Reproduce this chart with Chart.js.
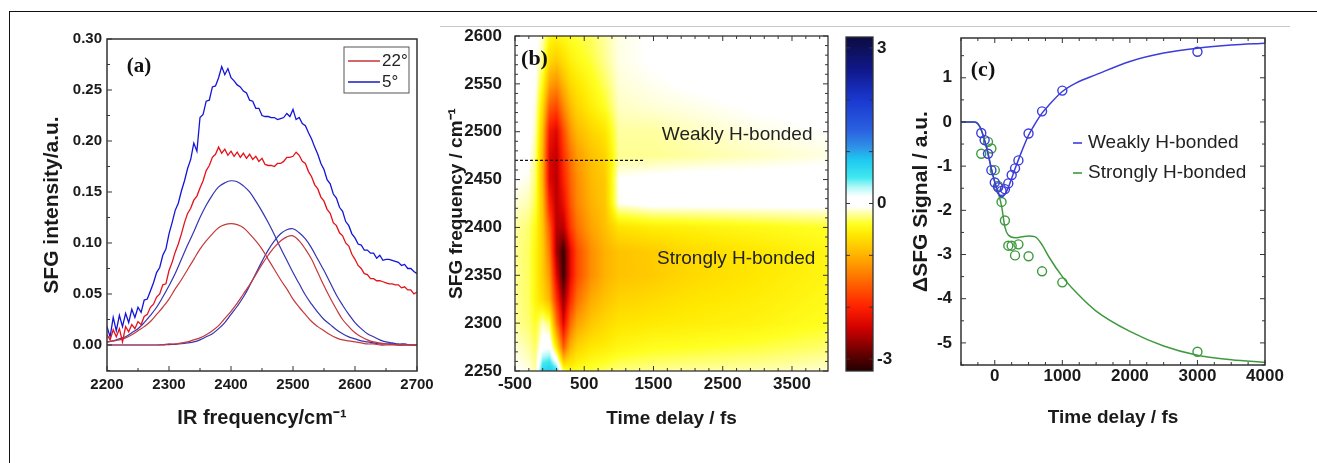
<!DOCTYPE html>
<html>
<head>
<meta charset="utf-8">
<script src="https://cdn.jsdelivr.net/npm/chart.js@4.4.1/dist/chart.umd.min.js"></script>
<style>
  body { margin: 0; background: #fff; }
  #page { position: relative; width: 1317px; height: 463px; overflow: hidden; background: #fff; }
  canvas { position: absolute; top: 0; }
  .rule { position: absolute; }
</style>
</head>
<body>
<div id="page">
  <div class="rule" style="left:9px;top:11px;width:1308px;border-top:1.5px solid #111"></div>
  <div class="rule" style="left:9px;top:11px;height:452px;border-left:1.5px solid #111"></div>
  <div class="rule" style="left:440px;top:26px;width:850px;border-top:1px solid #c8c8c8"></div>
  <canvas id="chartA" width="440" height="463" style="left:0px"></canvas>
  <canvas id="chartB" width="400" height="463" style="left:440px"></canvas>
  <canvas id="chartBar" width="70" height="463" style="left:840px"></canvas>
  <canvas id="chartC" width="412" height="463" style="left:905px"></canvas>
</div>
<script>
// ---------- panel (a): SFG spectra ----------
const aFreqData = [];
for (let f = 2200; f <= 2700; f += 5) aFreqData.push(f);
const aFreqFit = [];
for (let f = 2200; f <= 2700; f += 10) aFreqFit.push(f);

const aBlue5 = [
  .018,.008,.027,.014,.029,.018,.031,.022,.035,.027,
  .037,.032,.044,.045,.053,.061,.071,.076,.088,.094,
  .109,.120,.132,.139,.151,.161,.173,.182,.198,.190,
  .223,.226,.239,.240,.253,.254,.262,.273,.265,.271,
  .262,.259,.255,.253,.249,.247,.240,.239,.232,.232,
  .225,.224,.224,.223,.223,.221,.222,.223,.227,.224,
  .231,.221,.223,.217,.215,.208,.202,.194,.187,.178,
  .172,.162,.158,.148,.144,.135,.131,.121,.117,.109,
  .105,.099,.098,.093,.093,.090,.090,.085,.088,.083,
  .084,.084,.083,.082,.081,.078,.079,.075,.075,.072,
  .070
];
const aRed22 = [
  .010,.005,.015,.008,.016,.003,.018,.013,.020,.016,
  .023,.020,.028,.030,.037,.040,.047,.050,.059,.060,
  .073,.081,.091,.099,.109,.120,.129,.134,.142,.146,
  .154,.161,.171,.176,.184,.187,.194,.188,.192,.186,
  .190,.185,.189,.184,.188,.183,.187,.182,.185,.180,
  .183,.177,.176,.176,.175,.178,.178,.180,.184,.184,
  .185,.189,.186,.180,.178,.170,.165,.157,.153,.145,
  .141,.133,.129,.120,.117,.110,.107,.100,.097,.089,
  .084,.078,.075,.070,.069,.065,.065,.063,.063,.062,
  .061,.060,.060,.059,.059,.056,.057,.054,.054,.050,
  .052
];
const aBlueFit1 = [
  .003,.004,.006,.008,.012,.016,.022,.029,.037,.047,
  .058,.070,.084,.098,.111,.125,.137,.147,.155,.159,
  .161,
  .160,.156,.150,.141,.131,.120,.108,.095,.083,.071,
  .060,.049,.040,.032,.025,.020,.015,.011,.008,.006,
  .004,.003,.002,.001,.001,.001,0,0,0,0
];
const aRedFit1 = [
  .003,.004,.005,.007,.010,.014,.018,.023,.030,.037,
  .045,.055,.064,.074,.084,.094,.102,.109,.115,.118,
  .119,
  .118,.115,.109,.102,.094,.084,.074,.064,.055,.045,
  .037,.030,.023,.018,.014,.010,.007,.005,.004,.003,
  .002,.001,.001,0,0,0,0,0,0,0
];
const aBlueFit2 = [
  0,0,0,0,0,0,0,0,0,0,
  .0004,.0007,.0012,.002,.003,.005,.008,.011,.016,.022,
  .030,
  .038,.047,.058,.070,.082,.093,.102,.109,.113,.114,
  .110,.104,.095,.084,.073,.061,.049,.039,.030,.022,
  .016,.011,.008,.005,.003,.002,.001,.001,0,0
];
const aRedFit2 = [
  0,0,0,0,0,0,0,0,0,.0004,
  .001,.001,.002,.003,.005,.007,.010,.014,.019,.026,
  .033,
  .041,.050,.059,.069,.079,.088,.096,.102,.106,.107,
  .102,.094,.084,.071,.058,.046,.035,.025,.018,.012,
  .008,.005,.003,.002,.001,.0005,0,0,0,0
];
const aXTicks = [2200, 2300, 2400, 2500, 2600, 2700];
const aYTicks = [0, 0.05, 0.10, 0.15, 0.20, 0.25, 0.30];

// ---------- panel (b): 2D map ----------
const hmTime = [-500, -300, -200, -100, 0, 100, 200, 300, 400, 600, 800, 1000, 1500, 2000, 3000, 4050];
const hmFreq = [2250, 2275, 2300, 2325, 2350, 2375, 2400, 2425, 2450, 2475, 2500, 2525, 2550, 2575, 2600];
const hmValues = [
  [-0.05, -0.1, -0.2, 0.7, 0.8, 0.6, -0.3, -0.45, -0.4, -0.35, -0.3, -0.25, -0.22, -0.2, -0.18, -0.12],
  [-0.12, -0.2, -0.3, 0.05, 0.1, -0.6, -1.6, -1.0, -0.75, -0.6, -0.55, -0.48, -0.42, -0.4, -0.35, -0.28],
  [-0.2, -0.28, -0.4, -0.15, -0.3, -1.4, -2.3, -1.5, -1.1, -0.85, -0.72, -0.62, -0.58, -0.55, -0.5, -0.4],
  [-0.22, -0.3, -0.5, -0.7, -1.0, -1.9, -2.7, -1.95, -1.45, -1.05, -0.88, -0.76, -0.7, -0.63, -0.55, -0.45],
  [-0.22, -0.3, -0.5, -0.8, -1.2, -2.3, -3.1, -2.25, -1.7, -1.25, -1.0, -0.88, -0.82, -0.72, -0.6, -0.48],
  [-0.22, -0.3, -0.5, -0.8, -1.4, -2.6, -3.1, -2.25, -1.7, -1.25, -1.0, -0.88, -0.8, -0.7, -0.6, -0.48],
  [-0.2, -0.28, -0.45, -0.85, -1.6, -2.5, -2.5, -1.85, -1.45, -1.1, -0.9, -0.64, -0.55, -0.52, -0.45, -0.38],
  [-0.12, -0.18, -0.35, -0.9, -2.0, -2.5, -2.2, -1.65, -1.3, -1.0, -0.85, -0.08, 0, 0, 0, 0],
  [-0.05, -0.1, -0.3, -1.0, -2.3, -2.5, -2.0, -1.55, -1.25, -0.95, -0.82, -0.06, -0.02, 0, 0, 0],
  [0, -0.03, -0.25, -1.0, -2.3, -2.45, -1.9, -1.45, -1.15, -0.9, -0.75, -0.22, -0.22, -0.2, -0.15, -0.1],
  [0, 0, -0.18, -0.9, -2.1, -2.3, -1.7, -1.2, -0.95, -0.75, -0.6, -0.2, -0.2, -0.16, -0.1, -0.06],
  [0, 0, -0.12, -0.7, -1.6, -1.75, -1.3, -0.95, -0.75, -0.55, -0.4, -0.15, -0.12, -0.1, -0.05, -0.03],
  [0, 0, -0.08, -0.45, -1.1, -1.25, -0.95, -0.72, -0.6, -0.45, -0.3, -0.12, -0.08, -0.05, -0.02, 0],
  [0, 0, -0.05, -0.25, -0.7, -0.8, -0.65, -0.52, -0.45, -0.35, -0.22, -0.1, -0.05, -0.03, 0, 0],
  [0, 0, 0, -0.15, -0.45, -0.5, -0.45, -0.4, -0.35, -0.3, -0.2, -0.1, -0.05, -0.03, 0, 0]
];
const bDashTime = [-500, 1350];
const bDashFreq = [2470, 2470];
const bXTicks = [-500, 500, 1500, 2500, 3500];
const bYTicks = [2250, 2300, 2350, 2400, 2450, 2500, 2550, 2600];

// colour bar
const cbMin = -3.23, cbMax = 3.21;
const cbTicks = [-3, 0, 3];
const cmapStops = [
  [-3.23, [32, 0, 0]], [-2.77, [128, 0, 0]], [-2.4, [208, 0, 0]], [-2.0, [255, 32, 0]],
  [-1.6, [255, 90, 0]], [-1.2, [255, 149, 0]], [-0.9, [255, 192, 0]], [-0.6, [255, 232, 0]],
  [-0.4, [255, 255, 32]], [-0.2, [255, 255, 160]], [-0.06, [255, 255, 255]], [0.13, [255, 255, 255]],
  [0.32, [176, 248, 248]], [0.5, [64, 232, 240]], [0.84, [30, 200, 240]], [1.1, [47, 143, 230]],
  [1.42, [42, 96, 224]], [2.0, [26, 56, 208]], [2.58, [16, 24, 138]], [3.21, [12, 12, 64]]
];

// ---------- panel (c): kinetics ----------
const cFitTime = [-500, -300, -250, -200, -150, -100, -50, 0, 50, 100, 150, 200, 300, 400, 500, 600, 700, 800, 1000, 1200, 1500, 2000, 2500, 3000, 3500, 4000];
const cWeakFit = [0, 0, -0.04, -0.18, -0.42, -0.72, -1.06, -1.36, -1.6, -1.7, -1.64, -1.48, -1.06, -0.66, -0.3, -0.03, 0.2, 0.38, 0.69, 0.88, 1.07, 1.37, 1.56, 1.67, 1.74, 1.78];
const cStrongFit = [0, 0, -0.04, -0.18, -0.42, -0.72, -1.06, -1.36, -1.6, -1.9, -2.38, -2.56, -2.62, -2.6, -2.58, -2.6, -2.78, -3.05, -3.5, -3.85, -4.28, -4.74, -5.07, -5.28, -5.38, -5.44];
const cWeakTime = [-200, -150, -100, -50, 0, 50, 100, 150, 200, 250, 300, 350, 500, 700, 1000, 3000];
const cWeakData = [-0.25, -0.41, -0.72, -1.09, -1.37, -1.48, -1.56, -1.52, -1.39, -1.2, -1.05, -0.87, -0.26, 0.24, 0.71, 1.59];
const cStrongTime = [-200, -100, -50, 0, 50, 100, 150, 200, 250, 300, 350, 500, 700, 1000, 3000];
const cStrongData = [-0.72, -0.45, -0.6, -1.09, -1.45, -1.81, -2.23, -2.8, -2.8, -3.02, -2.77, -3.04, -3.38, -3.63, -5.2];
const cXTicks = [0, 1000, 2000, 3000, 4000];
const cYTicks = [-5, -4, -3, -2, -1, 0, 1];

// ---------- helpers ----------
const SANS = "'Liberation Sans', Arial, sans-serif";
const SERIF = "'Liberation Serif', 'Times New Roman', serif";
const toXY = (xs, ys) => xs.map((x, i) => ({ x: x, y: ys[i] }));
const fixTicks = (list) => (scale) => { scale.ticks = list.map(v => ({ value: v })); };
const plain = (v) => String(v);

function colorFor(v) {
  if (v <= cmapStops[0][0]) return cmapStops[0][1];
  for (let i = 0; i < cmapStops.length - 1; i++) {
    const [v0, c0] = cmapStops[i], [v1, c1] = cmapStops[i + 1];
    if (v <= v1) {
      const u = (v - v0) / (v1 - v0);
      return [c0[0] + (c1[0] - c0[0]) * u, c0[1] + (c1[1] - c0[1]) * u, c0[2] + (c1[2] - c0[2]) * u];
    }
  }
  return cmapStops[cmapStops.length - 1][1];
}

function findCell(arr, v) {
  if (v <= arr[0]) return [0, 0];
  for (let i = 0; i < arr.length - 1; i++) {
    if (v <= arr[i + 1]) return [i, (v - arr[i]) / (arr[i + 1] - arr[i])];
  }
  return [arr.length - 2, 1];
}

function sampleGrid(t, f) {
  const [i, u] = findCell(hmTime, t);
  const [j, w] = findCell(hmFreq, f);
  const r0 = hmValues[j], r1 = hmValues[j + 1];
  const a = r0[i] * (1 - u) + r0[i + 1] * u;
  const b = r1[i] * (1 - u) + r1[i + 1] * u;
  return a * (1 - w) + b * w;
}

// box with inward ticks
function framePlugin(axes, lw) {
  return {
    id: 'frame',
    afterDatasetsDraw(chart) {
      const { ctx, chartArea: a, scales } = chart;
      ctx.save();
      ctx.strokeStyle = '#333';
      ctx.lineWidth = 1;
      for (const ax of axes) {
        const s = scales[ax.id];
        const k0 = Math.ceil((s.min - ax.start) / ax.minor - 1e-6);
        const k1 = Math.floor((s.max - ax.start) / ax.minor + 1e-6);
        ctx.beginPath();
        for (let k = k0; k <= k1; k++) {
          const v = ax.start + k * ax.minor;
          const r = (v - ax.start) / ax.major;
          const len = Math.abs(r - Math.round(r)) < 1e-6 ? ax.len[0] : ax.len[1];
          const p = s.getPixelForValue(v);
          for (const side of ax.sides) {
            if (side === 'bottom') { ctx.moveTo(p, a.bottom); ctx.lineTo(p, a.bottom - len); }
            if (side === 'top') { ctx.moveTo(p, a.top); ctx.lineTo(p, a.top + len); }
            if (side === 'left') { ctx.moveTo(a.left, p); ctx.lineTo(a.left + len, p); }
            if (side === 'right') { ctx.moveTo(a.right, p); ctx.lineTo(a.right - len, p); }
          }
        }
        ctx.stroke();
      }
      ctx.lineWidth = lw;
      ctx.strokeRect(a.left, a.top, a.right - a.left, a.bottom - a.top);
      ctx.restore();
    }
  };
}

function textPlugin(items) {
  return {
    id: 'texts',
    afterDatasetsDraw(chart) {
      const { ctx, chartArea: a, scales } = chart;
      ctx.save();
      ctx.textBaseline = 'middle';
      for (const t of items) {
        const px = t.data ? scales.x.getPixelForValue(t.x) : a.left + t.x;
        const py = t.data ? scales.y.getPixelForValue(t.y) : a.top + t.y;
        ctx.font = t.font;
        ctx.fillStyle = t.color || '#222';
        ctx.textAlign = t.align || 'center';
        ctx.fillText(t.text, px, py);
      }
      ctx.restore();
    }
  };
}

function legendPlugin(cfg) {
  return {
    id: 'boxLegend',
    afterDatasetsDraw(chart) {
      const { ctx, chartArea: a } = chart;
      ctx.save();
      if (cfg.box) {
        ctx.strokeStyle = '#555';
        ctx.lineWidth = 1;
        ctx.strokeRect(a.left + cfg.box[0], a.top + cfg.box[1], cfg.box[2], cfg.box[3]);
      }
      ctx.font = cfg.font;
      ctx.textBaseline = 'middle';
      ctx.textAlign = 'left';
      for (const r of cfg.rows) {
        ctx.strokeStyle = r.color;
        ctx.lineWidth = 1.6;
        ctx.beginPath();
        ctx.moveTo(a.left + cfg.line[0], a.top + r.y);
        ctx.lineTo(a.left + cfg.line[1], a.top + r.y);
        ctx.stroke();
        ctx.fillStyle = '#222';
        ctx.fillText(r.label, a.left + cfg.textX, a.top + r.y);
      }
      ctx.restore();
    }
  };
}

const heatmapPlugin = {
  id: 'heatmap',
  beforeDatasetsDraw(chart) {
    const { ctx, chartArea: a, scales: { x, y } } = chart;
    const w = Math.round(a.right - a.left), h = Math.round(a.bottom - a.top);
    const off = document.createElement('canvas');
    off.width = w; off.height = h;
    const octx = off.getContext('2d');
    const img = octx.createImageData(w, h);
    for (let j = 0; j < h; j++) {
      const f = y.getValueForPixel(a.top + j + 0.5);
      for (let i = 0; i < w; i++) {
        const t = x.getValueForPixel(a.left + i + 0.5);
        const c = colorFor(sampleGrid(t, f));
        const k = (j * w + i) * 4;
        img.data[k] = c[0]; img.data[k + 1] = c[1]; img.data[k + 2] = c[2]; img.data[k + 3] = 255;
      }
    }
    octx.putImageData(img, 0, 0);
    ctx.drawImage(off, a.left, a.top);
  }
};

const tickFont = (size) => ({ family: SANS, size: size, weight: 'bold' });
const baseOptions = {
  responsive: false,
  animation: false,
  events: [],
  plugins: { legend: { display: false }, tooltip: { enabled: false } }
};
Chart.defaults.color = '#1a1a1a';

// ---------- chart (a) ----------
new Chart(document.getElementById('chartA'), {
  type: 'line',
  data: {
    datasets: [
      { data: toXY(aFreqData, aRed22), borderColor: '#e3121b', borderWidth: 1.3 },
      { data: toXY(aFreqData, aBlue5), borderColor: '#1414d8', borderWidth: 1.3 },
      { data: toXY(aFreqFit, aRedFit1), borderColor: '#c4393b', borderWidth: 1.2, tension: 0.4 },
      { data: toXY(aFreqFit, aRedFit2), borderColor: '#c4393b', borderWidth: 1.2, tension: 0.4 },
      { data: toXY(aFreqFit, aBlueFit1), borderColor: '#3434b4', borderWidth: 1.2, tension: 0.4 },
      { data: toXY(aFreqFit, aBlueFit2), borderColor: '#3434b4', borderWidth: 1.2, tension: 0.4 }
    ]
  },
  options: Object.assign({}, baseOptions, {
    elements: { point: { radius: 0 } },
    layout: { padding: { left: 0, top: 39, right: 23, bottom: 0 } },
    scales: {
      x: {
        type: 'linear', min: 2200, max: 2700,
        grid: { display: false, drawTicks: false }, border: { display: false },
        afterBuildTicks: fixTicks(aXTicks),
        afterFit: (s) => { s.height = 92; },
        ticks: { font: tickFont(15), padding: 5, maxRotation: 0, autoSkip: false, callback: plain },
        title: { display: true, text: 'IR frequency/cm⁻¹', font: { family: SANS, size: 20, weight: 'bold' }, padding: { top: 0, bottom: 33 } }
      },
      y: {
        type: 'linear', min: -0.0255, max: 0.30,
        grid: { display: false, drawTicks: false }, border: { display: false },
        afterBuildTicks: fixTicks(aYTicks),
        afterFit: (s) => { s.width = 107; },
        ticks: { font: tickFont(15), padding: 5, autoSkip: false, callback: (v) => Number(v).toFixed(2) },
        title: { display: true, text: 'SFG intensity/a.u.', font: { family: SANS, size: 21, weight: 'bold' }, padding: { top: 40, bottom: 0 } }
      }
    }
  }),
  plugins: [
    framePlugin([
      { id: 'x', start: 2200, major: 100, minor: 50, len: [5, 3], sides: ['bottom'] },
      { id: 'y', start: 0, major: 0.05, minor: 0.025, len: [5, 3], sides: ['left'] }
    ], 1.5),
    textPlugin([{ text: '(a)', x: 32, y: 28, font: 'bold 21px ' + SERIF, color: '#111' }]),
    legendPlugin({
      box: [237, 8, 65, 46], line: [241, 273], textX: 275, font: '17px ' + SANS,
      rows: [{ label: '22°', color: '#c84040', y: 22 }, { label: '5°', color: '#2a2ac0', y: 43 }]
    })
  ]
});

// ---------- chart (b) ----------
new Chart(document.getElementById('chartB'), {
  type: 'line',
  data: {
    datasets: [
      { data: toXY(bDashTime, bDashFreq), borderColor: '#111', borderWidth: 1.2, borderDash: [3, 2], pointRadius: 0 }
    ]
  },
  options: Object.assign({}, baseOptions, {
    layout: { padding: { left: 0, top: 36, right: 12, bottom: 0 } },
    scales: {
      x: {
        type: 'linear', min: -500, max: 4020,
        grid: { display: false, drawTicks: false }, border: { display: false },
        afterBuildTicks: fixTicks(bXTicks),
        afterFit: (s) => { s.height = 92; },
        ticks: { font: tickFont(17), padding: 3, maxRotation: 0, autoSkip: false, callback: plain },
        title: { display: true, text: 'Time delay / fs', font: { family: SANS, size: 19, weight: 'bold' }, padding: { top: 0, bottom: 33 } }
      },
      y: {
        type: 'linear', min: 2250, max: 2600,
        grid: { display: false, drawTicks: false }, border: { display: false },
        afterBuildTicks: fixTicks(bYTicks),
        afterFit: (s) => { s.width = 75; },
        ticks: { font: tickFont(17), padding: 13, autoSkip: false, callback: plain },
        title: { display: true, text: 'SFG frequency / cm⁻¹', font: { family: SANS, size: 19, weight: 'bold' }, padding: { top: 5, bottom: 0 } }
      }
    }
  }),
  plugins: [
    heatmapPlugin,
    framePlugin([
      { id: 'x', start: -500, major: 1000, minor: 200, len: [5, 3], sides: ['bottom', 'top'] },
      { id: 'y', start: 2250, major: 50, minor: 10, len: [5, 3], sides: ['left', 'right'] }
    ], 1.3),
    textPlugin([
      { text: '(b)', x: 19.5, y: 23, font: 'bold 22px ' + SERIF, color: '#111' },
      { text: 'Weakly H-bonded', data: true, x: 2708, y: 2497, font: '19px ' + SANS },
      { text: 'Strongly H-bonded', data: true, x: 2694, y: 2367, font: '19px ' + SANS }
    ])
  ]
});

// ---------- colour bar ----------
new Chart(document.getElementById('chartBar'), {
  type: 'bar',
  data: {
    labels: [''],
    datasets: [{
      data: [[cbMin, cbMax]],
      borderWidth: 0,
      barPercentage: 1,
      categoryPercentage: 1,
      backgroundColor: (c) => {
        const chart = c.chart;
        if (!chart.chartArea) return '#fff';
        const ys = chart.scales.y;
        const g = chart.ctx.createLinearGradient(0, ys.getPixelForValue(cbMax), 0, ys.getPixelForValue(cbMin));
        for (const [v, col] of cmapStops) {
          g.addColorStop((cbMax - v) / (cbMax - cbMin), 'rgb(' + col.map(Math.round).join(',') + ')');
        }
        return g;
      }
    }]
  },
  options: Object.assign({}, baseOptions, {
    layout: { padding: { left: 6, top: 37, right: 0, bottom: 92 } },
    scales: {
      x: { display: false },
      y: {
        position: 'right', min: cbMin, max: cbMax,
        grid: { display: false, drawTicks: false }, border: { display: false },
        afterBuildTicks: fixTicks(cbTicks),
        afterFit: (s) => { s.width = 37; },
        ticks: { font: tickFont(17), padding: 4, autoSkip: false, callback: plain }
      }
    }
  }),
  plugins: [
    framePlugin([{ id: 'y', start: 0, major: 1, minor: 1, len: [4, 4], sides: ['left', 'right'] }], 1.3)
  ]
});

// ---------- chart (c) ----------
new Chart(document.getElementById('chartC'), {
  type: 'line',
  data: {
    datasets: [
      { data: toXY(cFitTime, cWeakFit), borderColor: '#3c3cdc', borderWidth: 1.5, pointRadius: 0, cubicInterpolationMode: 'monotone' },
      { data: toXY(cFitTime, cStrongFit), borderColor: '#3f9a3f', borderWidth: 1.5, pointRadius: 0, cubicInterpolationMode: 'monotone' },
      { data: toXY(cWeakTime, cWeakData), showLine: false, pointRadius: 4.5, pointBorderWidth: 1.4,
        pointBorderColor: '#3c3cdc', pointBackgroundColor: 'rgba(0,0,0,0)' },
      { data: toXY(cStrongTime, cStrongData), showLine: false, pointRadius: 4.5, pointBorderWidth: 1.4,
        pointBorderColor: '#3f9a3f', pointBackgroundColor: 'rgba(0,0,0,0)' }
    ]
  },
  options: Object.assign({}, baseOptions, {
    layout: { padding: { left: 0, top: 38, right: 52, bottom: 0 } },
    scales: {
      x: {
        type: 'linear', min: -500, max: 4000,
        grid: { display: false, drawTicks: false }, border: { display: false },
        afterBuildTicks: fixTicks(cXTicks),
        afterFit: (s) => { s.height = 98; },
        ticks: { font: tickFont(17), padding: 1, maxRotation: 0, autoSkip: false, callback: plain },
        title: { display: true, text: 'Time delay / fs', font: { family: SANS, size: 19, weight: 'bold' }, padding: { top: 0, bottom: 34 } }
      },
      y: {
        type: 'linear', min: -5.5, max: 1.9,
        grid: { display: false, drawTicks: false }, border: { display: false },
        afterBuildTicks: fixTicks(cYTicks),
        afterFit: (s) => { s.width = 56; },
        ticks: { font: tickFont(17), padding: 9, autoSkip: false, callback: plain },
        title: { display: true, text: 'ΔSFG Signal / a.u.', font: { family: SANS, size: 21, weight: 'bold' }, padding: { top: 4, bottom: 0 } }
      }
    }
  }),
  plugins: [
    framePlugin([
      { id: 'x', start: 0, major: 1000, minor: 250, len: [5, 3], sides: ['bottom', 'top'] },
      { id: 'y', start: 0, major: 1, minor: 0.5, len: [5, 3], sides: ['left', 'right'] }
    ], 1.5),
    textPlugin([{ text: '(c)', x: 22, y: 32, font: 'bold 22px ' + SERIF, color: '#111' }]),
    legendPlugin({
      line: [112, 121], textX: 127, font: '19px ' + SANS,
      rows: [{ label: 'Weakly H-bonded', color: '#3c3cdc', y: 105 }, { label: 'Strongly H-bonded', color: '#3f9a3f', y: 135 }]
    })
  ]
});
</script>
</body>
</html>
